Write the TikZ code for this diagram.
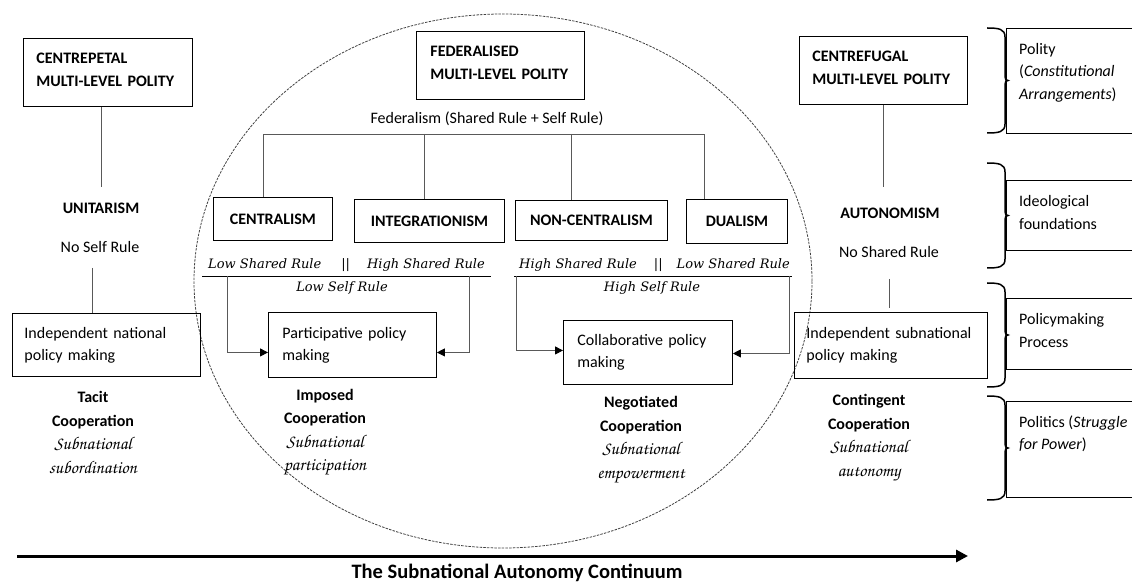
\documentclass[tikz,border=0pt]{standalone}
\usepackage{fontspec}
\setmainfont{Carlito}
\newfontfamily\rulefont{DejaVu Serif}
\usetikzlibrary{arrows.meta,calc}
\newcommand\chanc{\fontencoding{OT1}\fontfamily{pzc}\fontseries{mb}\fontshape{it}\fontsize{18}{23.5}\selectfont}
\newcommand\lowerpad{\rule[-6pt]{0pt}{0pt}}
\begin{document}
\begin{tikzpicture}[x=1pt,y=-1pt,
  txt/.style={font=\fontsize{16}{22}\selectfont, inner sep=0pt},
  btxt/.style={font=\fontsize{16}{22}\selectfont\bfseries, inner sep=0pt},
  bx/.style={draw=black, line width=0.9pt, anchor=north west, inner ysep=0pt, align=left, font=\fontsize{16}{22}\selectfont},
  hbx/.style={bx, font=\fontsize{16}{23}\selectfont\bfseries},
  cat/.style={draw=black, line width=0.9pt, anchor=north west, font=\fontsize{16}{20}\selectfont\bfseries, inner sep=0pt},
  conn/.style={draw=black!65, line width=0.9pt},
  arr/.style={conn, -{Triangle[length=8pt,width=8pt,color=black]}},
  coop/.style={align=center, inner sep=0pt, font=\fontsize{16}{23.5}\selectfont},
  ruletxt/.style={inner sep=0pt, font=\fontsize{13}{16}\rulefont\itshape},
  rtxt/.style={anchor=west, align=left, inner sep=0pt, font=\fontsize{16}{22.5}\selectfont},
  brc/.style={draw=black, line width=1.5pt},
  side/.style={draw=black, line width=0.9pt},
]
\useasboundingbox (0,0) rectangle (1132,585);

% federal zone
\draw[black!75, line width=0.8pt, dash pattern=on 2.5pt off 1.2pt] (503,281) ellipse [x radius=309pt, y radius=267pt];

% polity boxes
\node[hbx, minimum width=169pt, minimum height=68pt, text width=143pt, inner xsep=13pt] (cp) at (23,38) {CENTREPETAL\\MULTI-LEVEL POLITY\lowerpad};
\node[hbx, minimum width=168pt, minimum height=68pt, text width=140pt, inner xsep=14pt] (fed) at (416,31) {FEDERALISED\\MULTI-LEVEL POLITY\lowerpad};
\node[hbx, minimum width=168pt, minimum height=68pt, text width=142pt, inner xsep=13pt] (cf) at (799,36) {CENTREFUGAL\\MULTI-LEVEL POLITY\lowerpad};

% federalism tree
\node[txt] (fedr) at (487,119) {Federalism (Shared Rule + Self Rule)};
\node[cat, minimum width=119pt, minimum height=43pt] (cen) at (213,197) {CENTRALISM};
\node[cat, minimum width=150pt, minimum height=43pt] (int) at (354,199) {INTEGRATIONISM};
\node[cat, minimum width=152pt, minimum height=40pt] (nonc) at (515,200) {NON-CENTRALISM};
\node[cat, minimum width=101pt, minimum height=44pt] (dua) at (686,199) {DUALISM};
\coordinate (t1) at (263,134);
\coordinate (t2) at (424,134);
\coordinate (t3) at (571,134);
\coordinate (t4) at (704,134);
\draw[conn] (t1 |- cen.north) -- (t1) -- (t4) -- (t4 |- dua.north);
\draw[conn] (t2) -- (t2 |- int.north);
\draw[conn] (t3) -- (t3 |- nonc.north);

% left column
\node[btxt] (unit) at (101,208) {UNITARISM};
\node[txt] (nsr) at (100,247) {No Self Rule};
\node[bx, minimum width=182pt, minimum height=63pt, text width=164pt, inner xsep=12pt] (nat) at (12,313) {Independent national\\policy making};
\node[coop] (tacit) at (93,432.5) {\textbf{Tacit}\\\textbf{Cooperation}\\{\chanc Subnational}\\{\chanc subordination}};
\draw[conn, shorten >=15pt] (cp.south -| unit.north) -- (unit.north);
\coordinate (nl) at ($(nsr.south)+(-8,15)$);
\draw[conn] (nl) -- (nl |- nat.north);

% imposed
\node[ruletxt] (lr1) at (346.5,265) {Low Shared Rule\hspace{20pt}||\hspace{17pt}High Shared Rule};
\coordinate (u1a) at (202,276);
\coordinate (u1b) at (491,276);
\draw[line width=0.9pt] (u1a) -- (u1b);
\node[ruletxt] (ls) at (342,288) {Low Self Rule};
\node[bx, minimum width=168pt, minimum height=65pt, text width=140pt, inner xsep=14pt] (part) at (268,312) {Participative policy\\making};
\coordinate (a1) at (227,276);
\coordinate (a2) at (469,276);
\draw[arr] (a1) |- ([yshift=-7.5pt]part.west);
\draw[arr] (a2) |- ([yshift=-7.5pt]part.east);
\node[coop] (imp) at (325,432.5) {\textbf{Imposed}\\\textbf{Cooperation}\\{\chanc Subnational}\\{\chanc participation}};

% negotiated
\node[ruletxt] (hr2) at (654.5,265) {High Shared Rule\hspace{17pt}||\hspace{14pt}Low Shared Rule};
\coordinate (u2a) at (514,276);
\coordinate (u2b) at (792,276);
\draw[line width=0.9pt] (u2a) -- (u2b);
\node[ruletxt] (hs) at (652,288) {High Self Rule};
\node[bx, minimum width=169pt, minimum height=64pt, text width=141pt, inner xsep=14pt] (collab) at (563,320) {Collaborative policy\\making};
\coordinate (a3) at (516,276);
\coordinate (a4) at (789,276);
\draw[arr] (a3) |- ([yshift=2pt]collab.west);
\draw[arr] (a4) |- ([yshift=-1pt]collab.east);
\node[coop] (neg) at (641,440) {\textbf{Negotiated}\\\textbf{Cooperation}\\{\chanc Subnational}\\{\chanc empowerment}};

% right column
\node[btxt] (auto) at (890,213) {AUTONOMISM};
\node[txt] (nsh) at (889,252) {No Shared Rule};
\node[bx, minimum width=193pt, minimum height=66pt, text width=169pt, inner xsep=12pt] (sub) at (794,312) {Independent subnational\\policy making};
\node[coop] (cont) at (869,438) {\textbf{Contingent}\\\textbf{Cooperation}\\{\chanc Subnational}\\{\chanc autonomy}};
\draw[conn, shorten >=20pt] (cf.south) -- (cf.south |- auto.north);
\draw[conn, shorten <=21pt, shorten >=4pt] (nsh.south) -- (nsh.south |- sub.north);

% side dimensions
\foreach \t/\b in {28/133,163/268,283/387,396/500}{
  \draw[brc] (987,\t) .. controls (999,\t) and (1005,{\t+1}) .. (1005,{\t+9})
    -- (1005,{(\t+\b)/2-4}) .. controls (1005,{(\t+\b)/2-1}) and (1006,{(\t+\b)/2}) .. (1008,{(\t+\b)/2})
    .. controls (1006,{(\t+\b)/2}) and (1005,{(\t+\b)/2+1}) .. (1005,{(\t+\b)/2+4})
    -- (1005,{\b-9}) .. controls (1005,{\b-1}) and (999,\b) .. (987,\b);
}
\foreach \t/\b in {28/133,180/250,298/369,401/497}{
  \draw[side] (1132,\t) -- (1006,\t) -- (1006,\b) -- (1132,\b);
}
\node[rtxt] (pol) at (1019,72.5) {Polity\\(\textit{Constitutional}\\\textit{Arrangements})};
\node[rtxt] (ide) at (1019,212.5) {Ideological\\foundations};
\node[rtxt] (pmp) at (1019,330.5) {Policymaking\\Process};
\node[rtxt] (pols) at (1019,434) {Politics (\textit{Struggle}\\\textit{for Power})};

% continuum
\coordinate (c0) at (17,556);
\coordinate (c1) at (968,556);
\draw[line width=3pt, -{Triangle[length=12pt,width=12pt]}] (c0) -- (c1);
\node[font=\fontsize{20.5}{24}\selectfont\bfseries, inner sep=0pt] (contl) at (517,573) {The Subnational Autonomy Continuum};
\end{tikzpicture}
\end{document}
